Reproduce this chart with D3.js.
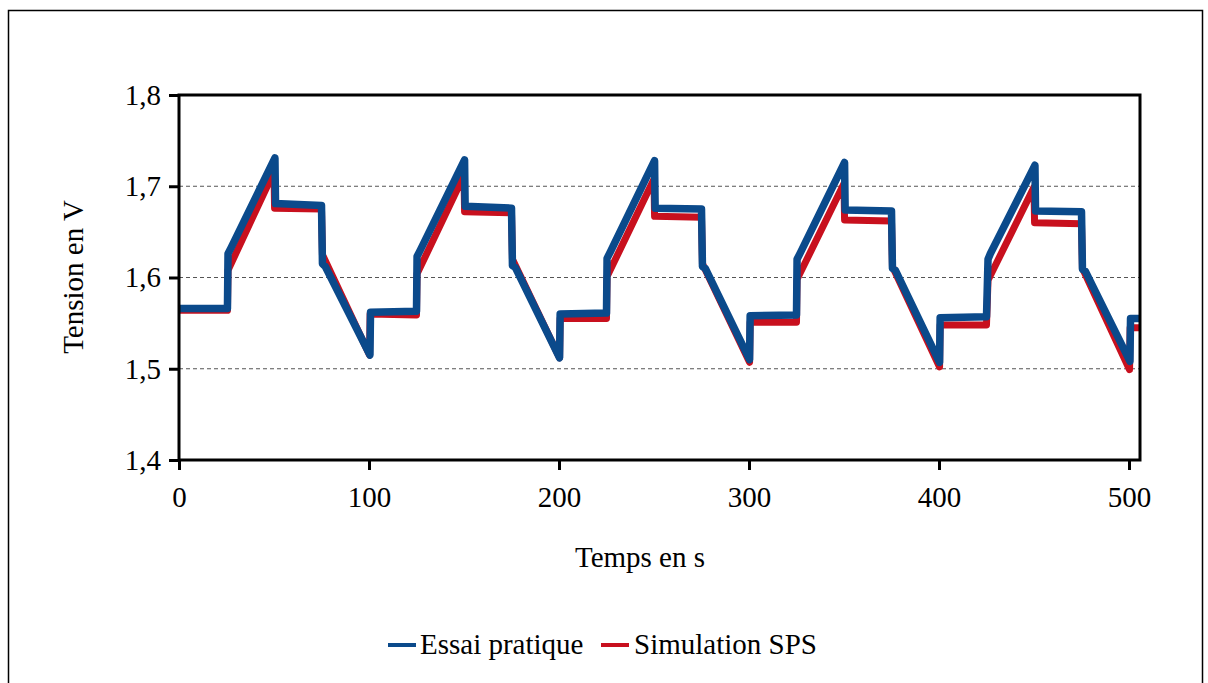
<!DOCTYPE html>
<html><head><meta charset="utf-8">
<script src="https://cdn.jsdelivr.net/npm/d3@7"></script>
<style>body{margin:0;background:#fff}svg{display:block}</style>
</head><body>
<svg id="c" width="1208" height="683"></svg>
<script>
// Data (time in s, voltage in V)
const essaiT = [0,25.5,25.8,27.5,50.5,50.8,75,75.5,77,100.5,100.8,
  125,125.3,127,150.3,150.6,175,175.5,177,200.3,200.6,
  225,225.3,227,250.3,250.6,275,275.5,277,300.3,300.6,
  325,325.3,327,350.3,350.6,375,375.5,377,400.3,400.6,
  425,425.8,427,450.5,450.8,475,475.5,477,500.5,500.8,505.8];
const essaiV = [1.566,1.566,1.626,1.633,1.731,1.681,1.679,1.615,1.612,1.515,1.562,
  1.563,1.623,1.630,1.729,1.678,1.676,1.613,1.611,1.512,1.560,
  1.561,1.621,1.628,1.728,1.676,1.675,1.612,1.610,1.510,1.558,
  1.559,1.620,1.627,1.726,1.674,1.673,1.610,1.608,1.507,1.556,
  1.557,1.620,1.626,1.723,1.673,1.672,1.609,1.607,1.508,1.555,1.555];
const simT = [0,25.5,25.8,50,50.3,75,75.5,100.3,100.6,
  125,125.3,150,150.3,175,175.5,200.3,200.6,
  225,225.3,250,250.3,275,275.5,300.3,300.6,
  325,325.3,350,350.3,375,375.5,400.3,400.6,
  425,425.8,450,450.3,475,475.5,500.3,500.6,505.8];
const simV = [1.564,1.564,1.608,1.716,1.676,1.675,1.625,1.515,1.560,
  1.559,1.604,1.712,1.672,1.671,1.620,1.512,1.555,
  1.555,1.601,1.708,1.667,1.666,1.615,1.507,1.551,
  1.551,1.598,1.703,1.663,1.662,1.612,1.502,1.548,
  1.548,1.597,1.699,1.660,1.659,1.610,1.499,1.545,1.545];
const xTicks = [0,100,200,300,400,500];
const yTicks = [1.4,1.5,1.6,1.7,1.8];
const seriesNames = ["Essai pratique","Simulation SPS"];
const colors = ["#0B4A8B","#C8101E"];

const svg = d3.select("#c");
const L = 179, R = 1140, T = 95, B = 460;
const x = d3.scaleLinear().domain([0, 500]).range([L, 1129]);
const y = d3.scaleLinear().domain([1.4, 1.8]).range([B, T]);
const font = "'Liberation Serif','Times New Roman',serif";
const fs = "29px";

// outer border
svg.append("rect").attr("x",8.5).attr("y",10.5).attr("width",1194).attr("height",690)
  .attr("fill","none").attr("stroke","#000").attr("stroke-width",1.5);

// gridlines
svg.append("g").selectAll("line").data(yTicks.filter(d=>d>1.4 && d<1.8)).join("line")
  .attr("x1",L).attr("x2",R).attr("y1",d=>y(d)).attr("y2",d=>y(d))
  .attr("stroke","#555").attr("stroke-width",1).attr("stroke-dasharray","4,3");

// series
svg.append("clipPath").attr("id","cp").append("rect")
  .attr("x",L).attr("y",T-10).attr("width",R-L).attr("height",B-T+20);
const line = d3.line().x(d=>x(d[0])).y(d=>y(d[1]));
const simData = d3.zip(simT, simV);
const essaiData = d3.zip(essaiT, essaiV);
const g = svg.append("g").attr("clip-path","url(#cp)");
g.append("path").datum(simData).attr("d",line).attr("fill","none")
  .attr("stroke",colors[1]).attr("stroke-width",7).attr("stroke-linejoin","round").attr("stroke-linecap","round");
g.append("path").datum(essaiData).attr("d",line).attr("fill","none")
  .attr("stroke",colors[0]).attr("stroke-width",7.5).attr("stroke-linejoin","round").attr("stroke-linecap","round");

// frame
svg.append("rect").attr("x",L).attr("y",T).attr("width",R-L).attr("height",B-T)
  .attr("fill","none").attr("stroke","#000").attr("stroke-width",3);

// axes
const xa = svg.append("g").attr("transform",`translate(0,${B})`)
  .call(d3.axisBottom(x).tickValues(xTicks).tickSize(10).tickSizeOuter(0).tickPadding(16));
const ya = svg.append("g").attr("transform",`translate(${L},0)`)
  .call(d3.axisLeft(y).tickValues(yTicks).tickSize(10).tickSizeOuter(0).tickPadding(8)
    .tickFormat(d=>d3.format(".1f")(d).replace(".",",")));
[xa,ya].forEach(a=>{
  a.select(".domain").remove();
  a.selectAll(".tick line").attr("stroke","#000").attr("stroke-width",3);
  a.selectAll(".tick text").attr("fill","#000").style("font-family",font).style("font-size",fs);
});

// axis titles
svg.append("text").attr("x",640).attr("y",567).attr("text-anchor","middle")
  .style("font-family",font).style("font-size",fs).text("Temps en s");
svg.append("text").attr("transform","translate(83,277) rotate(-90)").attr("text-anchor","middle")
  .style("font-family",font).style("font-size",fs).text("Tension en V");

// legend
const leg = [{x:388, tx:420},{x:601, tx:634}];
leg.forEach((p,i)=>{
  svg.append("line").attr("x1",p.x).attr("x2",p.x+28).attr("y1",645).attr("y2",645)
    .attr("stroke",colors[i]).attr("stroke-width",4);
  svg.append("text").attr("x",p.tx).attr("y",654).style("font-family",font).style("font-size",fs)
    .text(seriesNames[i]);
});
</script>
</body></html>
